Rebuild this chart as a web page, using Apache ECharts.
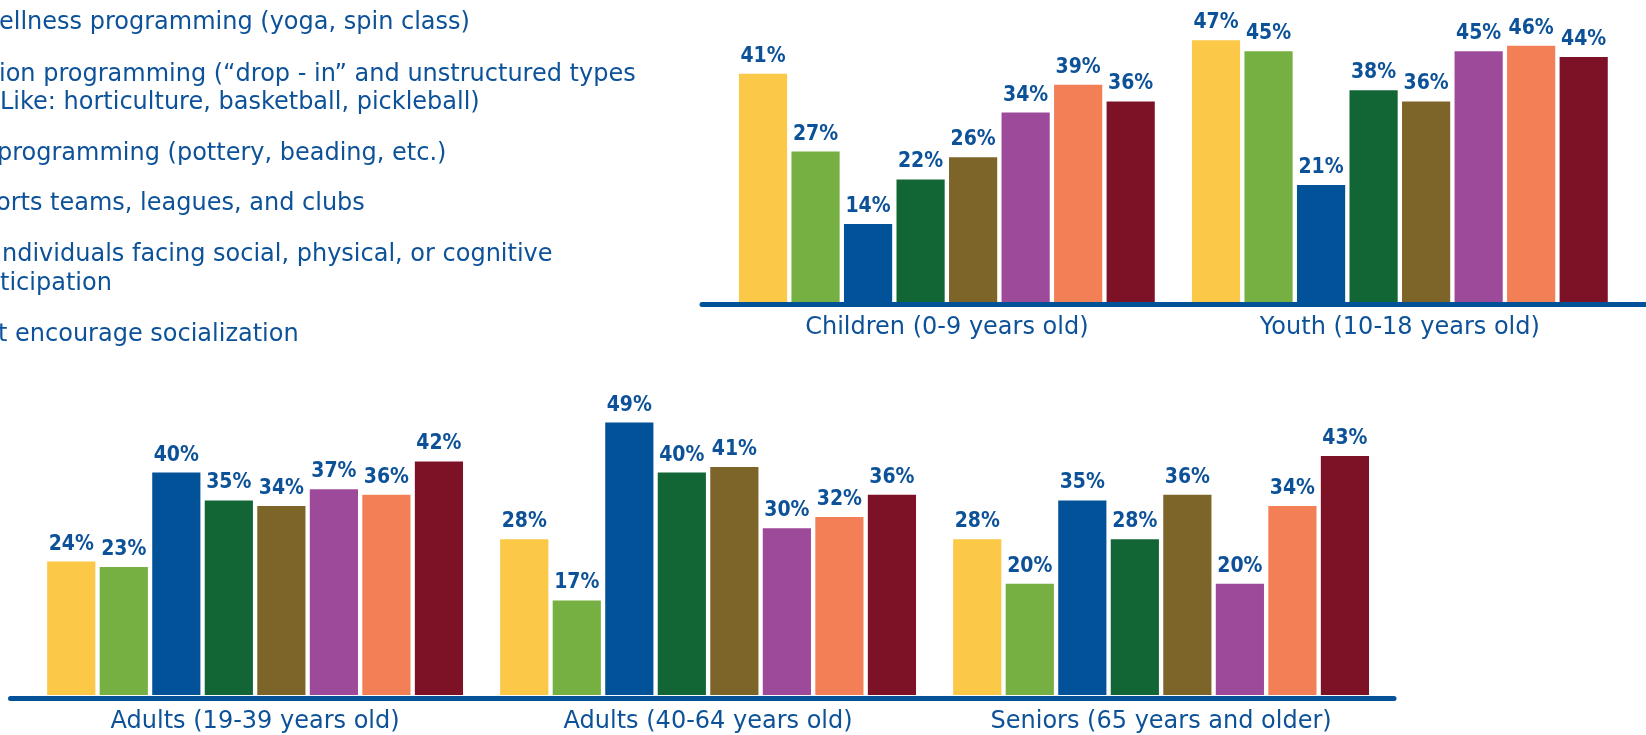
<!DOCTYPE html>
<html>
<head>
<meta charset="utf-8">
<script src="https://cdn.jsdelivr.net/npm/echarts@6/dist/echarts.min.js"></script>
<style>
html,body{margin:0;padding:0;background:#fff;}
#chart{width:1646px;height:735px;}
</style>
</head>
<body>
<div id="chart"></div>
<script>
// ---- data ----
const categories = ['Children (0-9 years old)', 'Youth (10-18 years old)', 'Adults (19-39 years old)', 'Adults (40-64 years old)', 'Seniors (65 years and older)'];
const seriesNames = ['Series 1', 'Series 2', 'Series 3', 'Series 4', 'Series 5', 'Series 6', 'Series 7', 'Series 8'];
const s1 = [41, 47, 24, 28, 28];
const s2 = [27, 45, 23, 17, 20];
const s3 = [14, 21, 40, 49, 35];
const s4 = [22, 38, 35, 40, 28];
const s5 = [26, 36, 34, 41, 36];
const s6 = [34, 45, 37, 30, 20];
const s7 = [39, 46, 36, 32, 34];
const s8 = [36, 44, 42, 36, 43];
const legendLines = [
  'ellness programming (yoga, spin class)',
  'ion programming (\u201cdrop - in\u201d and unstructured types',
  'Like: horticulture, basketball, pickleball)',
  'programming (pottery, beading, etc.)',
  'orts teams, leagues, and clubs',
  'ndividuals facing social, physical, or cognitive',
  'ticipation',
  't encourage socialization'
];

// ---- style ----
const colors = ['#FBC847', '#76B043', '#02529A', '#126635', '#7D6428', '#9D4A9A', '#F37F57', '#7D1226'];
const textBlue = '#0D5298';
const allSeries = [s1, s2, s3, s4, s5, s6, s7, s8];
const legendY = [23, 74.5, 103, 154, 203.6, 255, 283.4, 335];
const legendX = [-1, -1, 0, -3, -4, 2, 0, -2];

const topCats = categories.slice(0, 2);
const botCats = categories.slice(2);

const series = [];
allSeries.forEach((arr, i) => {
  const common = {
    type: 'bar',
    name: seriesNames[i],
    itemStyle: { color: colors[i] },
    barGap: '9%',
    barCategoryGap: '8.2%',
    label: {
      show: true, position: 'top', distance: 7,
      formatter: '{c}%',
      color: textBlue,
      fontFamily: "'DejaVu Sans Condensed', Roboto, sans-serif",
      fontWeight: 'bold',
      fontSize: 21
    },
    emphasis: { disabled: true }
  };
  series.push(Object.assign({}, common, { xAxisIndex: 0, yAxisIndex: 0, data: arr.slice(0, 2) }));
  series.push(Object.assign({}, common, { xAxisIndex: 1, yAxisIndex: 1, data: arr.slice(2) }));
});

const catAxisLabel = (m) => ({
  color: textBlue,
  fontFamily: "'DejaVu Sans', sans-serif",
  fontSize: 24,
  margin: m
});

const option = {
  animation: false,
  backgroundColor: '#ffffff',
  grid: [
    { left: 720.35, width: 906, top: 23.5, height: 278.5 },
    { left: 28.6, width: 1359, top: 417, height: 278 },
    { left: 702, right: 0, top: 250, bottom: 735 - 304.2 },
    { left: 10.5, right: 252, top: 600, bottom: 735 - 697.9 }
  ],
  xAxis: [
    { type: 'category', gridIndex: 0, data: topCats, axisLine: { show: false }, axisTick: { show: false }, axisLabel: catAxisLabel(14) },
    { type: 'category', gridIndex: 1, data: botCats, axisLine: { show: false }, axisTick: { show: false }, axisLabel: catAxisLabel(15) },
    { type: 'value', gridIndex: 2, axisLine: { show: true, lineStyle: { color: '#02529A', width: 5 } }, axisTick: { show: false }, axisLabel: { show: false }, splitLine: { show: false } },
    { type: 'value', gridIndex: 3, axisLine: { show: true, lineStyle: { color: '#02529A', width: 5 } }, axisTick: { show: false }, axisLabel: { show: false }, splitLine: { show: false } }
  ],
  yAxis: [
    { type: 'value', gridIndex: 0, min: 0, max: 50, show: false },
    { type: 'value', gridIndex: 1, min: 0, max: 50, show: false },
    { type: 'value', gridIndex: 2, show: false },
    { type: 'value', gridIndex: 3, show: false }
  ],
  graphic: legendLines.map((t, i) => ({
    type: 'text',
    x: legendX[i],
    y: legendY[i],
    style: {
      text: t,
      fill: textBlue,
      font: "24px 'DejaVu Sans', sans-serif",
      verticalAlign: 'middle',
      align: 'left'
    }
  })),
  series: series
};

const chart = echarts.init(document.getElementById('chart'), null, { renderer: 'canvas' });
chart.setOption(option);
</script>
</body>
</html>
